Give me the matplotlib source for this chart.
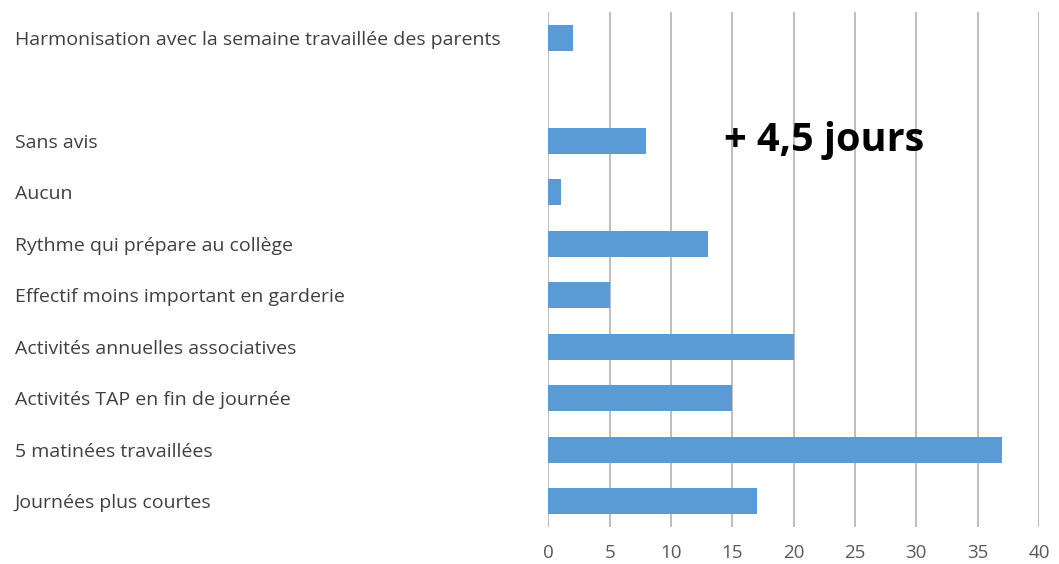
import matplotlib
matplotlib.use("Agg")
import matplotlib.pyplot as plt

categories = ["Journées plus courtes", "5 matinées travaillées", "Activités TAP en fin de journée",
              "Activités annuelles associatives", "Effectif moins important en garderie",
              "Rythme qui prépare au collège", "Aucun", "Sans avis", "",
              "Harmonisation avec la semaine travaillée des parents"]
values = [17, 37, 15, 20, 5, 13, 1, 8, 0, 2]
xticks = [0, 5, 10, 15, 20, 25, 30, 35, 40]
annotation = "+ 4,5 jours"

fig = plt.figure(figsize=(10.59, 5.64), dpi=100)
ax = fig.add_axes([548.3/1059, 1-527/564, (1039-548.3)/1059, (527-12)/564])

pos = list(range(len(categories)))
ax.barh(pos, values, height=0.5, color="#5B9BD5", edgecolor="none", zorder=3)
ax.set_xlim(0, 40)
ax.set_ylim(-0.5, len(categories) - 0.5)
ax.set_xticks(xticks)
ax.set_xticklabels([str(t) for t in xticks], fontsize=13.5, color="#595959", family="Open Sans")
ax.set_yticks(pos)
ax.set_yticklabels(categories, fontsize=14, color="#404040", family="Open Sans")
for lab in ax.get_yticklabels():
    lab.set_horizontalalignment("left")
ax.tick_params(axis="y", length=0, pad=(548.3-15)*72/100)
ax.tick_params(axis="x", length=0, pad=12)
ax.grid(axis="x", color="#BFBFBF", linewidth=1.5, zorder=0)
for s in ax.spines.values():
    s.set_visible(False)

ax.text(22.45, 7, annotation, fontsize=28.5, fontweight="bold", family="Open Sans",
        color="black", ha="center", va="center", zorder=4)

fig.savefig("out.png", dpi=100)
